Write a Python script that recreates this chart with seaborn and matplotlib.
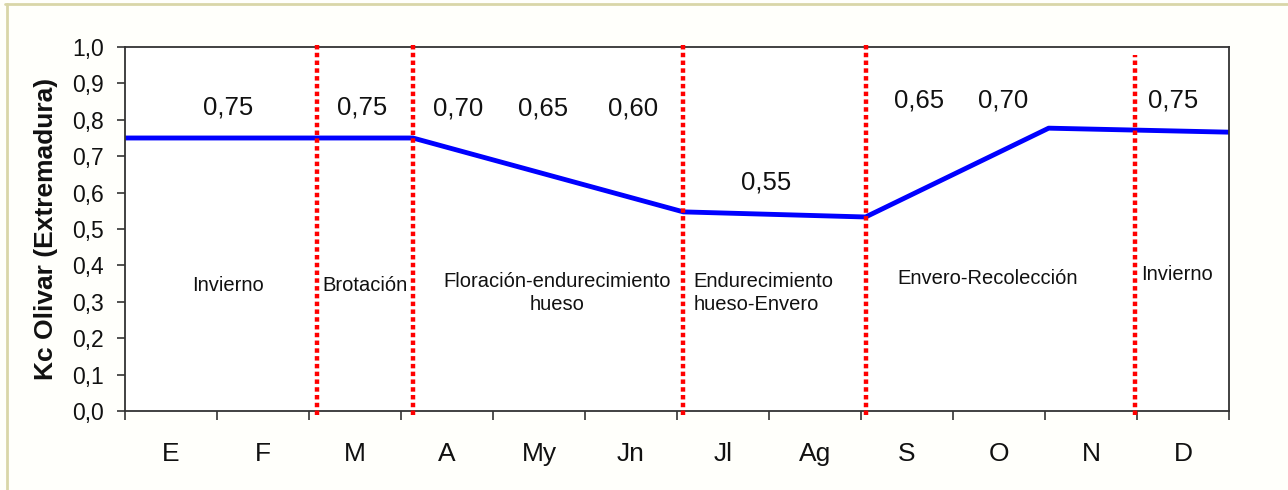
import pandas as pd
import seaborn as sns
import matplotlib.pyplot as plt
from matplotlib.lines import Line2D

# Months on the x axis
months = ['E', 'F', 'M', 'A', 'My', 'Jn', 'Jl', 'Ag', 'S', 'O', 'N', 'D']

# Kc curve (x in month units, 0 = start of January)
kc_x = [0.0, 3.13, 6.07, 8.05, 10.04, 12.0]
kc_y = [0.75, 0.75, 0.547, 0.533, 0.777, 0.766]

# Phase boundaries (red dotted lines)
bound_x = [2.09, 3.13, 6.07, 8.05, 10.98]
bound_top = [1.01, 1.01, 1.01, 1.01, 0.978]

# Monthly Kc value labels
val_text = ['0,75', '0,75', '0,70', '0,65', '0,60', '0,55', '0,65', '0,70', '0,75']
val_x = [1.12, 2.58, 3.62, 4.54, 5.52, 6.97, 8.63, 9.55, 11.39]
val_y = [0.834, 0.834, 0.83, 0.83, 0.83, 0.627, 0.852, 0.852, 0.852]

# Phenological phase names
phase_text = ['Invierno', 'Brotación', 'Floración-endurecimiento\nhueso',
              'Endurecimiento\nhueso-Envero', 'Envero-Recolección', 'Invierno']
phase_x = [1.12, 2.61, 4.70, 6.18, 9.38, 11.43]
phase_y = [0.346, 0.346, 0.324, 0.324, 0.365, 0.376]
phase_ha = ['center', 'center', 'center', 'left', 'center', 'center']

sns.set_theme(style='ticks')
plt.rcParams['font.family'] = ['Liberation Sans', 'DejaVu Sans']

fig = plt.figure(figsize=(12.88, 4.9), dpi=100)
fig.patch.set_facecolor('#fffffb')
ax = fig.add_axes([0.0970, 0.1612, 0.8572, 0.7429])
ax.set_facecolor('white')

df = pd.DataFrame({'x': kc_x, 'kc': kc_y})
sns.lineplot(data=df, x='x', y='kc', ax=ax, color='#0000ff', linewidth=3.5)

ax.vlines(bound_x, -0.01, bound_top, colors='#ff0000', linewidth=3.2,
          linestyles=(0, (1.0, 0.75)), clip_on=False, zorder=3)

for t, x, y in zip(val_text, val_x, val_y):
    ax.text(x, y, t, ha='center', va='center', fontsize=18.5, color='#111111')

for t, x, y, ha in zip(phase_text, phase_x, phase_y, phase_ha):
    ax.text(x, y, t, ha=ha, va='center', fontsize=14.5, color='#111111',
            linespacing=1.3)

ax.set_xlim(0, 12)
ax.set_ylim(0, 1)

yt = [i / 10 for i in range(11)]
ax.set_yticks(yt)
ax.set_yticklabels([f'{v:.1f}'.replace('.', ',') for v in yt], fontsize=16.5,
                   color='#111111')
ax.set_xticks(range(13))
ax.set_xticklabels([''] * 13)
ax.set_xticks([i + 0.5 for i in range(12)], minor=True)
ax.set_xticklabels(months, minor=True, fontsize=19, color='#111111')
ax.tick_params(axis='x', which='minor', length=0, pad=22.5)
ax.tick_params(axis='x', which='major', length=6.5, width=1.2, color='#333333')
ax.tick_params(axis='y', length=6, width=1.2, color='#333333', pad=9)

for s in ax.spines.values():
    s.set_color('#333333')
    s.set_linewidth(1.3)

ax.set_xlabel('')
ax.set_ylabel('Kc Olivar (Extremadura)', fontsize=19, fontweight='bold',
              labelpad=10, color='#111111')

# faint frame at top and left of the slide
fig.add_artist(Line2D([0.004, 1.0], [0.991, 0.991], color='#d9d6a8', linewidth=2,
                      transform=fig.transFigure))
fig.add_artist(Line2D([0.0055, 0.0055], [0.0, 0.991], color='#d9d6a8', linewidth=2,
                      transform=fig.transFigure))

fig.savefig('out.png', dpi=100, facecolor=fig.get_facecolor())
